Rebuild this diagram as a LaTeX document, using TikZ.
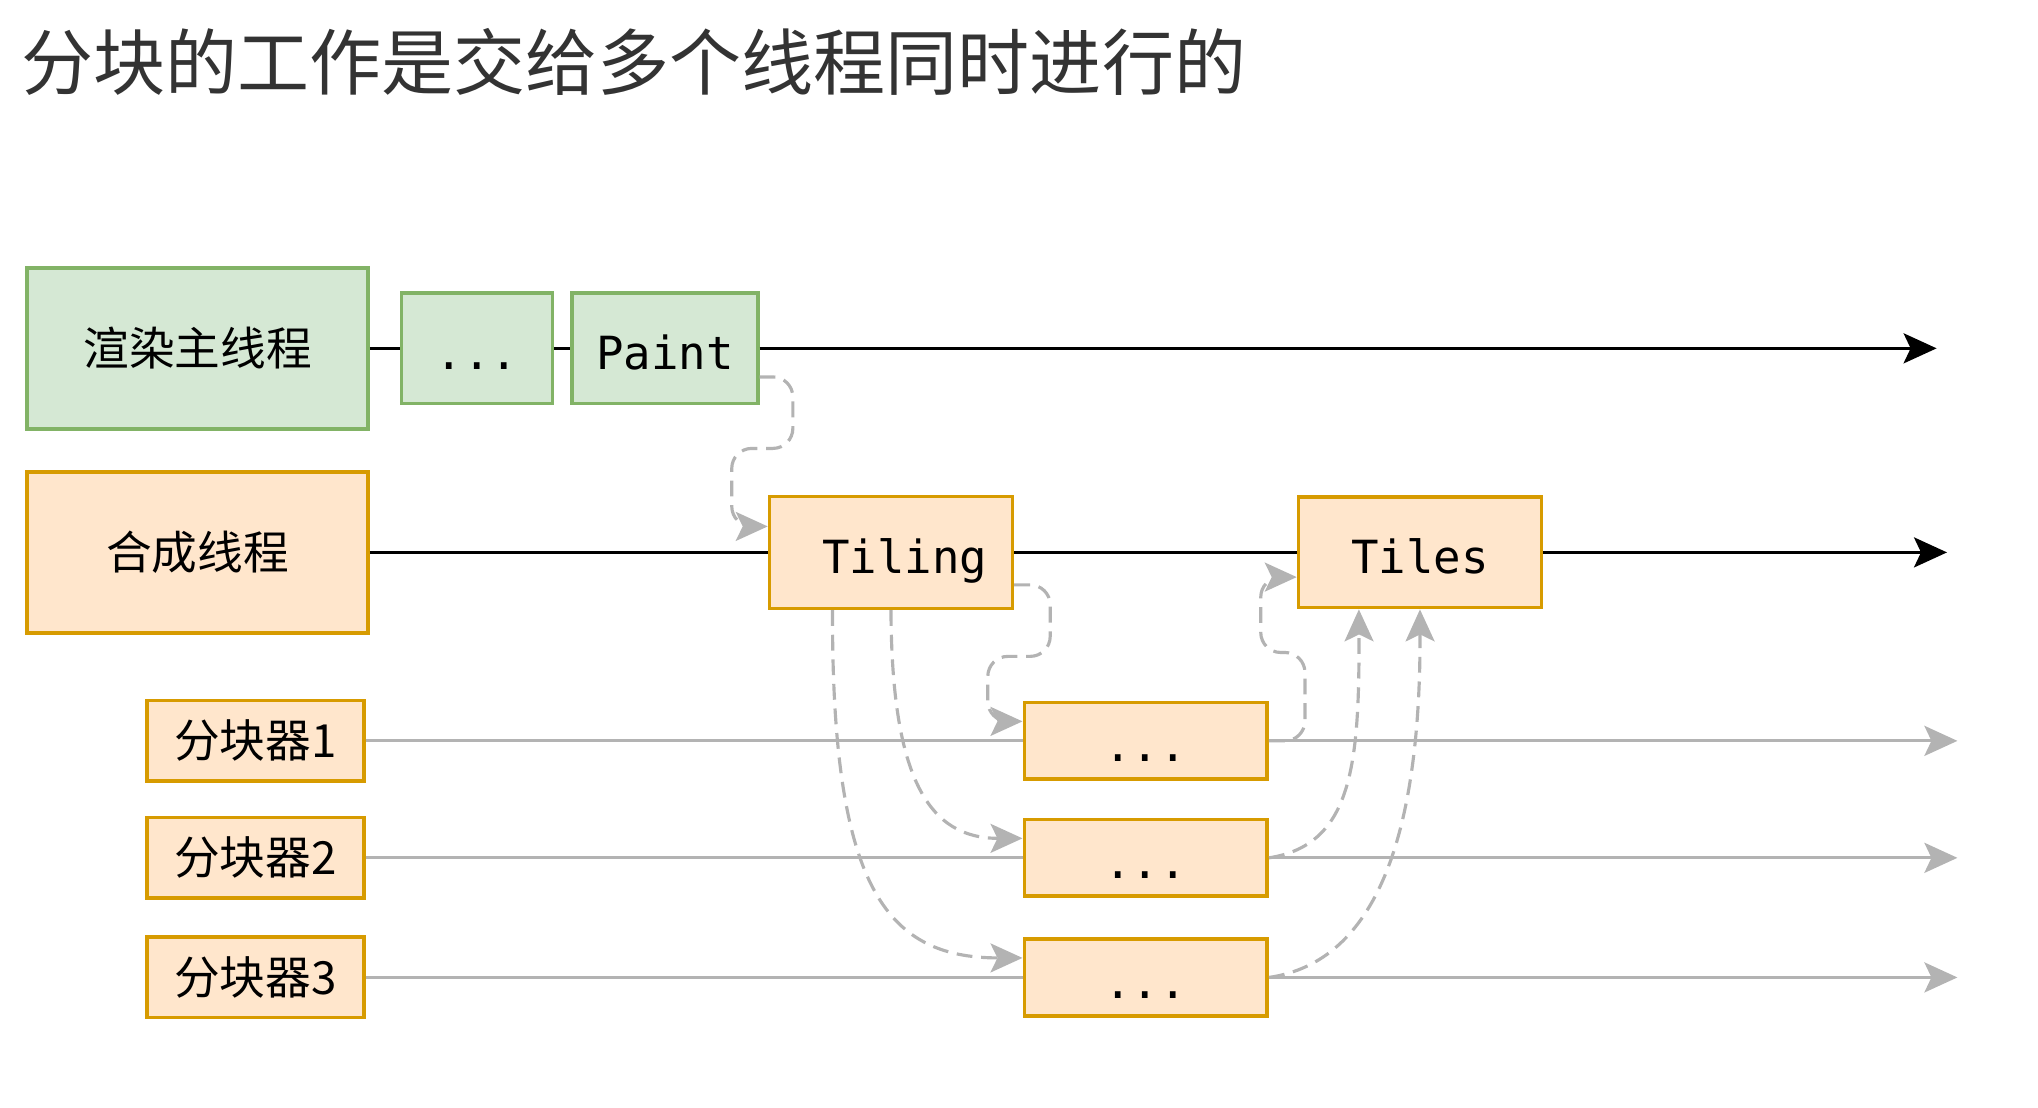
\documentclass[tikz,border=0pt]{standalone}
\usepackage{fontspec}
\usepackage{xcolor}
\usetikzlibrary{arrows.meta,calc}
\setmainfont{Noto Sans CJK SC}
\setmonofont{DejaVu Sans Mono}
\definecolor{greenfill}{HTML}{D5E8D4}
\definecolor{greenline}{HTML}{82B366}
\definecolor{orangefill}{HTML}{FFE6CC}
\definecolor{orangeline}{HTML}{D79B00}
\definecolor{lanegray}{HTML}{B3B3B3}
\definecolor{titlegray}{HTML}{333333}

\begin{document}
\begin{tikzpicture}[x=0.013cm,y=-0.013cm,
  greenbox/.style={draw=greenline,fill=greenfill,line width=1pt,inner sep=0pt},
  orangebox/.style={draw=orangeline,fill=orangefill,line width=1pt,inner sep=0pt},
  cjklabel/.style={font=\fontsize{13}{15}\selectfont},
  monolabel/.style={font=\fontsize{13}{15}\selectfont\ttfamily,text height=12pt,text depth=0pt},
  threadend/.style={line width=0.9pt,black,-{Stealth[length=0.33cm,width=0.3cm,inset=0.07cm]}},
  lane/.style={line width=0.9pt,lanegray,-{Stealth[length=0.33cm,width=0.3cm,inset=0.07cm]}},
  handoff/.style={line width=0.9pt,lanegray,dash pattern=on 4.5pt off 2.5pt,-{Stealth[length=0.32cm,width=0.29cm,inset=0.07cm]}}]
\useasboundingbox (0,0) rectangle (1568,852);
\node[anchor=west,inner sep=0pt,text=titlegray,font=\fontsize{20.5}{24}\selectfont] (title) at (16,48) {分块的工作是交给多个线程同时进行的};
\node[greenbox,cjklabel,minimum width=3.41cm,minimum height=1.61cm] (render) at (152,268) {渲染主线程};
\node[greenbox,monolabel,minimum width=1.51cm,minimum height=1.105cm] (rdots) at (367,268) {...};
\node[greenbox,monolabel,minimum width=1.86cm,minimum height=1.105cm] (paint) at (511.5,268) {Paint};
\node[orangebox,cjklabel,minimum width=3.41cm,minimum height=1.61cm] (compose) at (152,425) {合成线程};
\node[orangebox,monolabel,minimum width=2.43cm,minimum height=1.12cm] (tiling) at (685.5,425) {\ Tiling};
\node[orangebox,monolabel,minimum width=2.43cm,minimum height=1.105cm] (tiles) at (1092.5,425) {Tiles};
\coordinate (renderend) at (1490,268);
\coordinate (composeend) at (1498,425);
\draw[threadend] (render.east) -- (rdots.west) (rdots.east) -- (paint.west) (paint.east) -- (renderend);
\draw[threadend] (compose.east) -- (tiling.west) (tiling.east) -- (tiles.west) (tiles.east) -- (composeend);
\foreach \i/\y in {1/570,2/660,3/752}{
  \node[orangebox,cjklabel,minimum width=2.17cm,minimum height=0.806cm] (split\i) at (196.5,\y) {分块器\i};
  \node[orangebox,monolabel,minimum width=2.43cm,minimum height=0.767cm] (sdots\i) at (881.5,\y) {...};
  \coordinate (laneend\i) at (1506,\y);
  \draw[lane] (split\i.east) -- (sdots\i.west) (sdots\i.east) -- (laneend\i);
}
\draw[handoff,rounded corners=0.2cm] ($(paint.east)+(0,22)$) -| (610,345) -| (563,405) -- ($(tiling.west)+(0,-20)$);
\draw[handoff,rounded corners=0.2cm] ($(tiling.east)+(0,25)$) -| (808,505) -| (760,555) -- ($(sdots1.west)+(0,-15)$);
\draw[handoff] ($(tiling.south)+(-45,0)$) .. controls (640,680) and (680,737) .. ($(sdots3.west)+(0,-15)$);
\draw[handoff] (tiling.south) .. controls (686,600) and (715,645) .. ($(sdots2.west)+(0,-15)$);
\draw[handoff,rounded corners=0.2cm] (sdots1.east) -| (1004,502) -| (970,444) -- ($(tiles.west)+(0,19)$);
\draw[handoff] (sdots2.east) .. controls (1040,650) and (1046,590) .. ($(tiles.south)+(-47,0)$);
\draw[handoff] (sdots3.east) .. controls (1060,740) and (1093,640) .. (tiles.south);
\end{tikzpicture}
\end{document}
